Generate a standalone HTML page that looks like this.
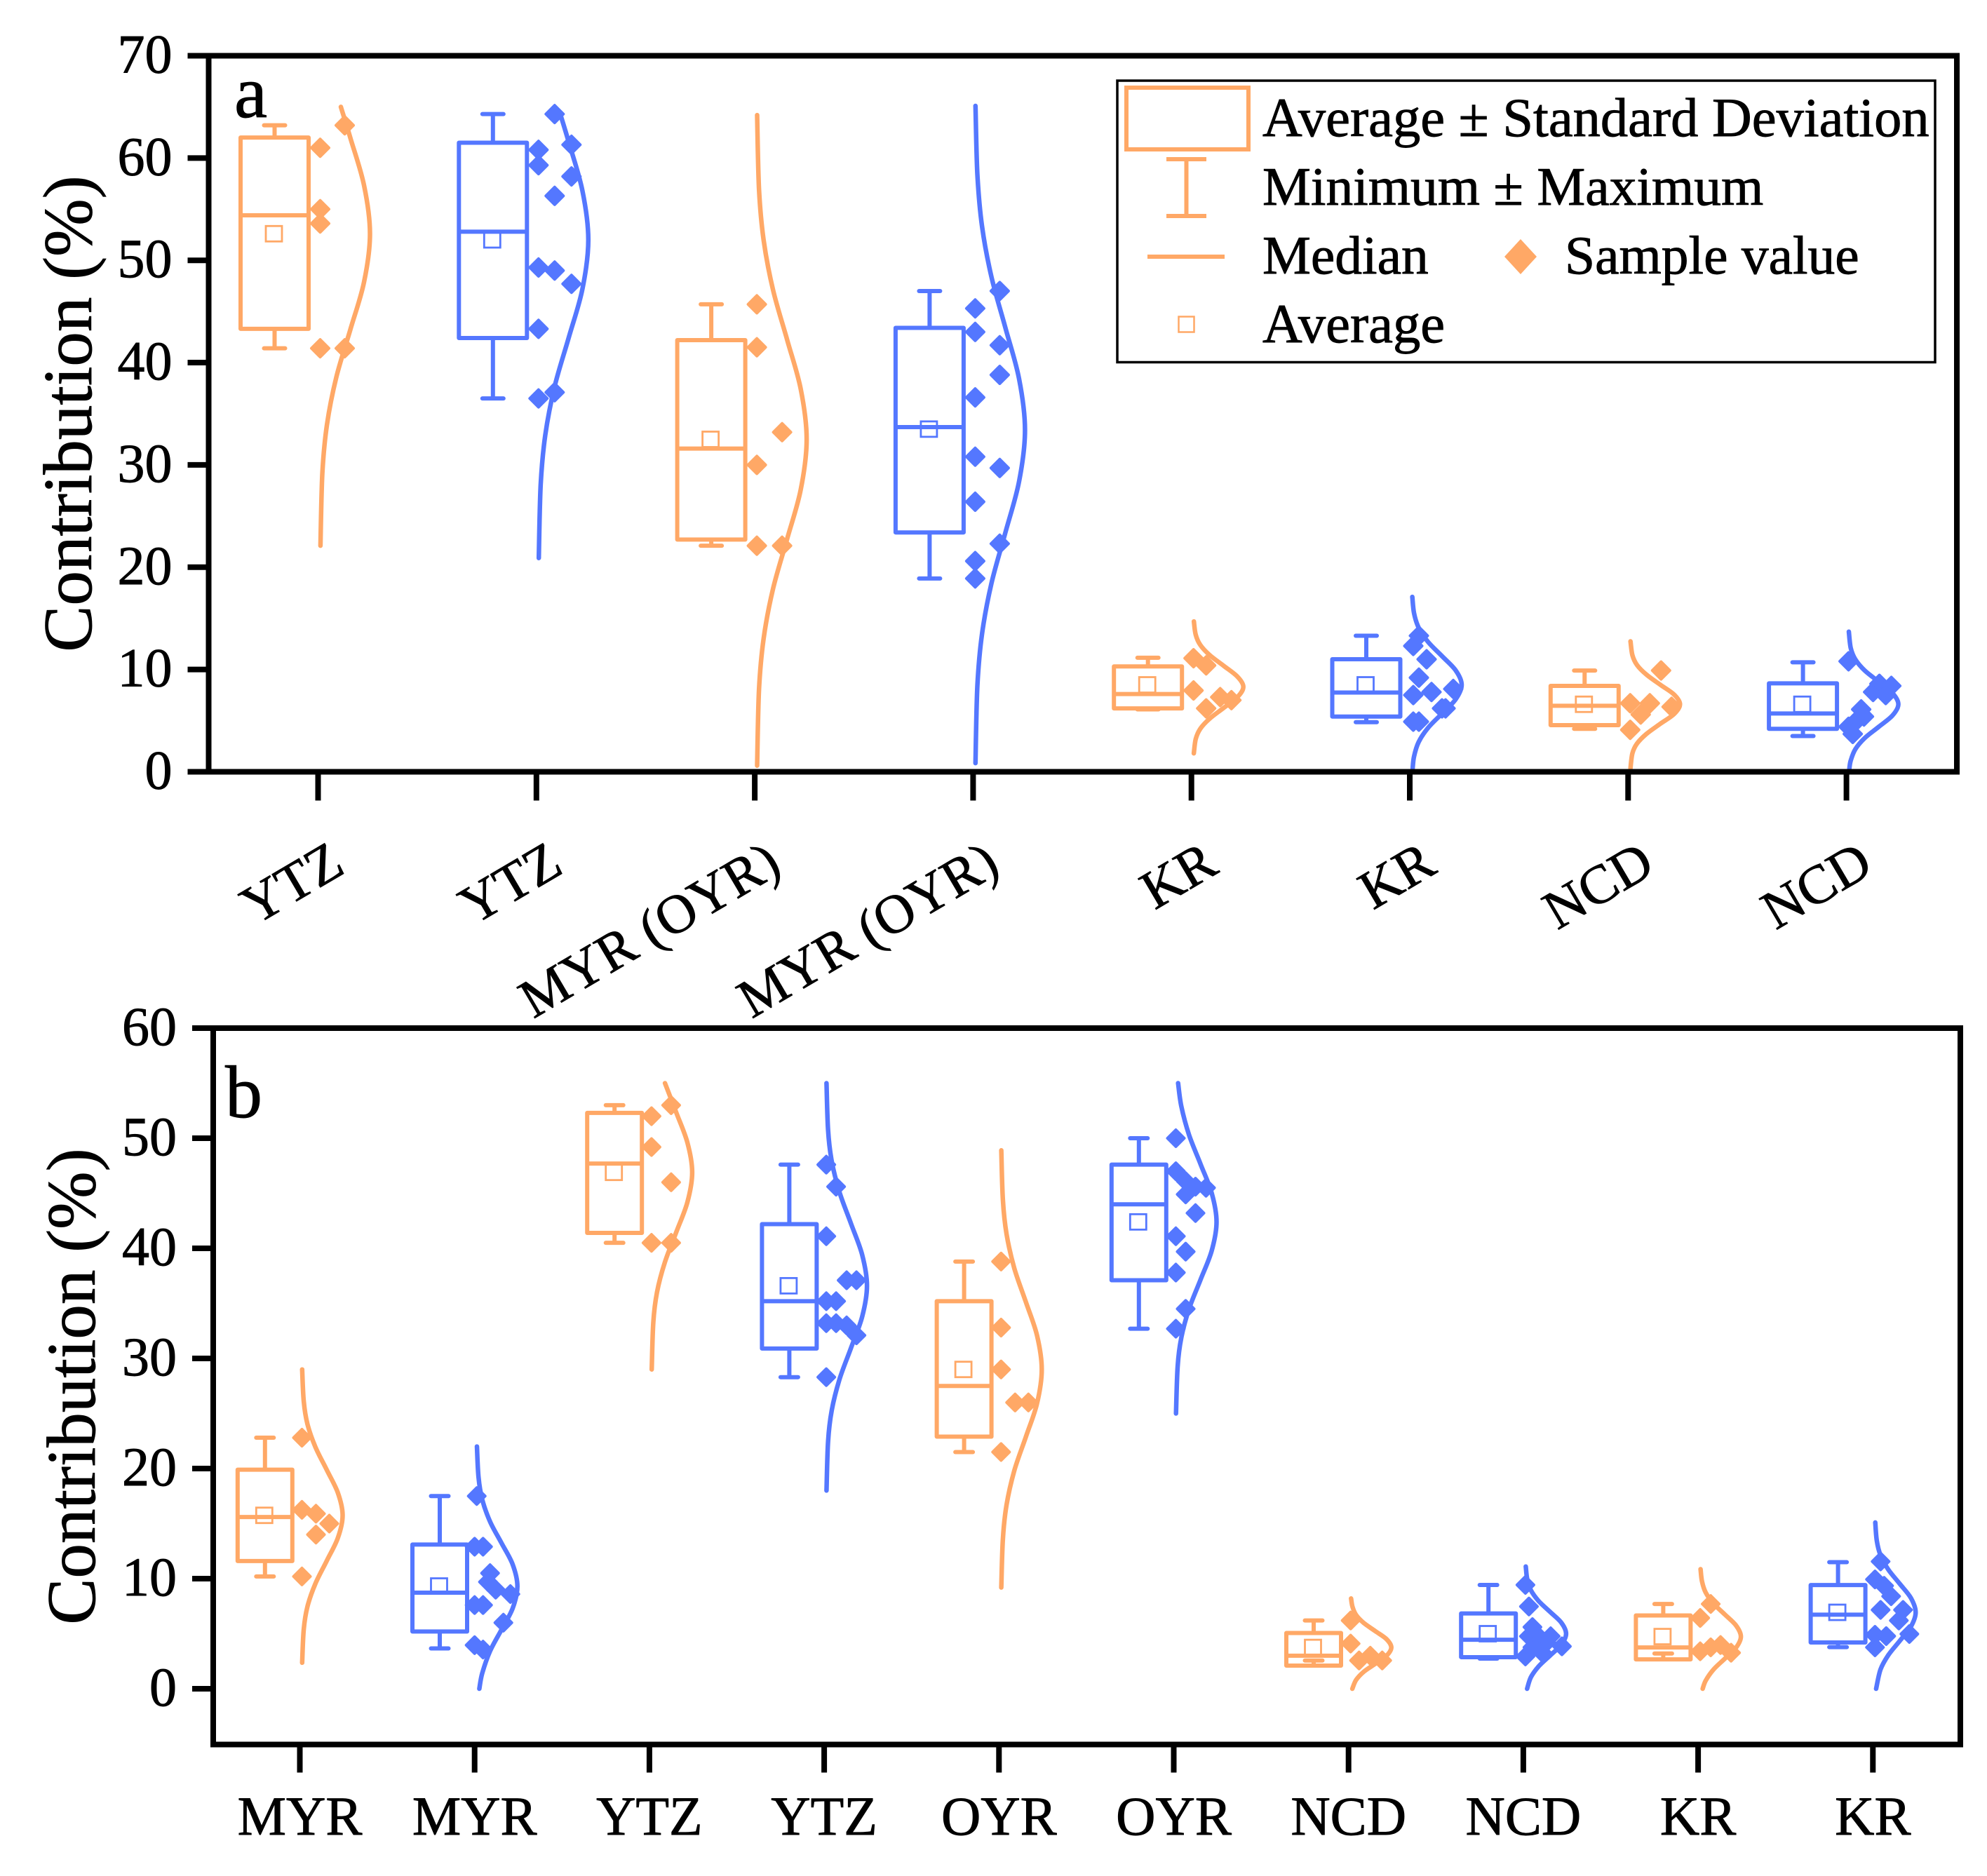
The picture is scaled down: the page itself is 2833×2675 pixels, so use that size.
<!DOCTYPE html>
<html lang="en">
<head>
<meta charset="utf-8">
<title>Contribution box and distribution charts</title>
<style>
html,body{margin:0;padding:0;background:#fff;}
svg{display:block;}
text{font-family:"Liberation Serif","Times New Roman",serif;fill:#000;stroke:#000;stroke-width:0.9px;}
</style>
</head>
<body>
<svg id="figure" xmlns="http://www.w3.org/2000/svg" width="2833" height="2675" viewBox="0 0 2833 2675">
  <rect x="0" y="0" width="2833" height="2675" fill="#fff"/>

  <g id="panel-a"></g>
  <g id="panel-b"></g>

  <rect x="297.5" y="79.5" width="2492.5" height="1021" fill="none" stroke="#000" stroke-width="8"/>
  <rect x="304" y="1466" width="2491" height="1021.5" fill="none" stroke="#000" stroke-width="8"/>

  <text transform="translate(130 590) rotate(-90)" text-anchor="middle" font-size="99">Contribution (%)</text>
  <text transform="translate(135 1977) rotate(-90)" text-anchor="middle" font-size="99">Contribution (%)</text>
  <text x="334" y="167" font-size="106">a</text>
  <text x="321" y="1593" font-size="106">b</text>

  <g>
    <rect x="1593" y="115" width="1166" height="401.5" fill="#fff" stroke="#000" stroke-width="3.5"/>
    <rect x="1606" y="125" width="174" height="88" fill="none" stroke="#FFA866" stroke-width="6"/>
    <g stroke="#FFA866" stroke-width="6">
      <line x1="1663" x2="1720" y1="227" y2="227"/>
      <line x1="1691.5" x2="1691.5" y1="227" y2="308"/>
      <line x1="1663" x2="1720" y1="308" y2="308"/>
    </g>
    <line x1="1636" x2="1746" y1="366" y2="366" stroke="#FFA866" stroke-width="6"/>
    <polygon points="2168,341 2191,366 2168,391 2145,366" fill="#FFA866"/>
    <rect x="1680.5" y="451.5" width="22" height="22" fill="none" stroke="#FFA866" stroke-width="2.5"/>
    <text x="1800" y="194" font-size="78.5">Average ± Standard Deviation</text>
    <text x="1800" y="292" font-size="77.5">Minimum ± Maximum</text>
    <text x="1800" y="390" font-size="77.5">Median</text>
    <text x="2231" y="390" font-size="77.5">Sample value</text>
    <text x="1800" y="488" font-size="78.5">Average</text>
  </g>
</svg>

<script>
/* ---------- Panel a data ---------- */
const categoriesA = ["YTZ","YTZ","MYR (OYR)","MYR (OYR)","KR","KR","NCD","NCD"];
const yTicksA = [0,10,20,30,40,50,60,70];
const boxTopA    = [62.0,61.5,42.2,43.4,10.3,11.0,8.4,8.65];
const boxBottomA = [43.3,42.4,22.7,23.4,6.2,5.4,4.56,4.2];
const medianA    = [54.4,52.8,31.6,33.7,7.6,7.75,6.45,5.7];
const meanA      = [52.6,52.0,32.5,33.5,8.5,8.5,6.6,6.6];
const whiskerMaxA= [63.2,64.3,45.7,47.0,11.15,13.3,9.9,10.7];
const whiskerMinA= [41.4,36.5,22.1,18.9,6.1,4.85,4.2,3.5];
const samplesA = [
  [61,55,53.6,41.4,63.2,41.4],
  [60.8,59.3,49.3,43.3,36.5,64.3,56.3,49,37.1,61.3,58.2,47.7],
  [45.7,41.5,30,22.1,33.2,22.1],
  [45.3,43,36.6,30.8,26.4,20.6,18.9,47,41.7,38.8,29.7,22.3],
  [11.1,10.4,7.95,6.2,7.3,7],
  [13.3,12.3,11,9.2,7.5,7.8,8.1,6.2,6.2,4.9,4.9],
  [9.9,6.7,6.7,5.6,6.35,4.1],
  [10.8,8.6,8.4,7.8,7.5,6.1,5.4,4.9,4.4,3.7]
];
const jitterA = [
  [0,0,0,0,3.5,3.5],
  [0,0,0,0,0,2.3,2.3,2.3,2.3,4.7,4.7,4.7],
  [0,0,0,0,3.6,3.6],
  [0,0,0,0,0,0,0,3.5,3.5,3.5,3.5,3.5],
  [0,1.8,0,1.8,3.8,5.4],
  [1,0.2,2.1,1,0.2,2.8,5.9,4.8,4.3,0.2,1],
  [4.4,0,2.8,1.5,5.9,0],
  [0,4.4,6.1,3.5,5.3,1.8,2.2,1,0,0.6]
];
const curveLevelsA = [
  [22.1,29.2,33.9,38.6,43.25,47.9,52.6,57.3,61.95,65],
  [20.9,28.1,32.9,37.7,42.45,47.2,52,56.8,61.55,64.5],
  [0.6,8.1,13,17.9,22.75,27.6,32.5,37.4,42.25,47.1,52,56.9,64.2],
  [0.85,8.4,13.4,18.4,23.4,28.4,33.4,38.4,43.4,48.4,53.4,58.4,65.1],
  [1.8,3.2,4.2,5.2,6.25,7.3,8.3,9.3,10.35,11.4,12.4,13.4,14.7],
  [0.34,1.5,2.9,4.3,5.7,7.1,8.5,9.9,11.3,12.7,14.1,15.5,17.1],
  [0.35,1.8,2.75,3.7,4.7,5.65,6.6,7.55,8.5,9.5,10.45,11.4,12.75],
  [0.34,1.1,2.2,3.3,4.4,5.5,6.6,7.7,8.8,9.9,11,12.1,13.7]
];
const curveDensityA = [
  [0.005,0.044,0.135,0.325,0.607,0.882,1,0.882,0.607,0.415],
  [0.005,0.044,0.135,0.325,0.607,0.882,1,0.882,0.607,0.424],
  [0.005,0.044,0.135,0.325,0.607,0.882,1,0.882,0.607,0.325,0.135,0.044,0.005],
  [0.005,0.044,0.135,0.325,0.607,0.882,1,0.882,0.607,0.325,0.135,0.044,0.006],
  [0.006,0.044,0.135,0.325,0.607,0.882,1,0.882,0.607,0.325,0.135,0.044,0.007],
  [0.015,0.044,0.135,0.325,0.607,0.882,1,0.882,0.607,0.325,0.135,0.044,0.009],
  [0.005,0.044,0.135,0.325,0.607,0.882,1,0.882,0.607,0.325,0.135,0.044,0.006],
  [0.017,0.044,0.135,0.325,0.607,0.882,1,0.882,0.607,0.325,0.135,0.044,0.006]
];

/* ---------- Panel b data ---------- */
const categoriesB = ["MYR","MYR","YTZ","YTZ","OYR","OYR","NCD","NCD","KR","KR"];
const yTicksB = [0,10,20,30,40,50,60];
const boxTopB    = [19.9,13.1,52.3,42.2,35.2,47.6,5.06,6.84,6.66,9.42];
const boxBottomB = [11.6,5.2,41.4,30.9,22.9,37.1,2.1,2.87,2.67,4.2];
const medianB    = [15.6,8.73,47.7,35.2,27.5,44,3,4.45,3.75,6.73];
const meanB      = [15.75,9.33,46.9,36.6,29,42.4,3.75,5,4.74,6.94];
const whiskerMaxB= [22.8,17.5,53,47.6,38.8,50,6.2,9.43,7.7,11.5];
const whiskerMinB= [10.2,3.66,40.5,28.3,21.5,32.7,2.56,2.74,3.2,3.78];
const samplesB = [
  [22.8,16.25,15.9,15,14,10.2],
  [17.5,12.9,12.9,10.5,9.7,9,8.6,7.6,7.6,6,3.96,3.56],
  [52,49.2,40.5,53,46,40.5],
  [47.6,45.6,41.1,37.1,37.1,35.2,35.2,33.2,33.2,33,32.1,28.3],
  [38.8,32.8,29,26,26,21.5],
  [50,47,46.1,45.6,45.5,44.9,43.2,41.1,39.7,37.8,34.5,32.7],
  [6.2,4.1,2.57,3,2.57],
  [9.43,7.47,5.6,4.77,4.67,4.77,4.2,3.85,3.76,3.27,2.93],
  [7.7,6.43,3.4,3.76,3.97,3.27],
  [11.56,9.93,9.35,8.4,7.16,7.16,6.2,4.9,4.78,4.97,3.76]
];
const jitterB = [
  [0,0,2,3.9,2,0],
  [0,-0.3,0.9,1.9,1.6,2.7,4.8,-0.3,0.9,3.8,-0.3,0.9],
  [0,0,0,2.8,2.8,2.8],
  [0,1.4,0,2.9,4.3,0,1.4,0,1.4,2.9,4.3,0],
  [0,0,0,2,3.9,0],
  [0,0,1.4,2.8,4.3,1.4,2.8,0,1.4,0,1.4,0],
  [0,0,1.2,2.8,4.5],
  [0,0.5,1,0.5,2,3.6,3,5.2,1,2.4,0],
  [1.5,0,0,1.5,2.9,4.4],
  [0.8,0,1.3,2.3,0.8,4,3.4,0,1.6,4.9,0]
];
const curveLevelsB = [
  [2.36,5.4,7.45,9.5,11.6,13.7,15.75,17.8,19.9,22,24.05,26.1,29],
  [0,1.4,3.4,5.35,7.3,9.3,11.3,13.25,15.2,17.2,19.2,22],
  [29,33.3,36,38.7,41.45,44.2,46.9,49.6,52.35,55],
  [18,22.5,25.3,28.1,30.95,33.8,36.6,39.4,42.25,45.1,47.9,50.7,55],
  [9.2,13.6,16.7,19.8,22.85,25.9,29,32.1,35.15,38.2,41.3,44.4,48.9],
  [25,29.3,31.9,34.5,37.15,39.8,42.4,45,47.65,50.3,52.9,55],
  [0,0.8,1.55,2.27,3,3.75,4.5,5.23,5.97,6.7,7.45,8.2],
  [0,1.05,2.03,3.02,4,5,6,6.98,7.97,8.95,9.95,11.1],
  [0,0.74,1.74,2.74,3.74,4.74,5.74,6.74,7.74,8.74,9.74,10.86],
  [0,1.74,3.04,4.34,5.64,6.94,8.24,9.54,10.84,12.14,13.44,15.1]
];
const curveDensityB = [
  [0.006,0.044,0.135,0.325,0.607,0.882,1,0.882,0.607,0.325,0.135,0.044,0.006],
  [0.063,0.135,0.325,0.607,0.882,1,0.882,0.607,0.325,0.135,0.044,0.006],
  [0.005,0.044,0.135,0.325,0.607,0.882,1,0.882,0.607,0.331],
  [0.006,0.044,0.135,0.325,0.607,0.882,1,0.882,0.607,0.325,0.135,0.044,0.005],
  [0.006,0.044,0.135,0.325,0.607,0.882,1,0.882,0.607,0.325,0.135,0.044,0.005],
  [0.004,0.044,0.135,0.325,0.607,0.882,1,0.882,0.607,0.325,0.135,0.056],
  [0.041,0.135,0.325,0.607,0.882,1,0.882,0.607,0.325,0.135,0.044,0.011],
  [0.041,0.135,0.325,0.607,0.882,1,0.882,0.607,0.325,0.135,0.044,0.009],
  [0.06,0.135,0.325,0.607,0.882,1,0.882,0.607,0.325,0.135,0.044,0.009],
  [0.028,0.135,0.325,0.607,0.882,1,0.882,0.607,0.325,0.135,0.044,0.007]
];

/* ---------- Drawing ---------- */
const ORANGE = "#FFA866";
const BLUE = "#5477FF";
const SVG_NS = "http://www.w3.org/2000/svg";
const groupColours = [ORANGE, BLUE];

function el(parent, tag, attrs) {
  const node = document.createElementNS(SVG_NS, tag);
  for (const key in attrs) node.setAttribute(key, attrs[key]);
  parent.appendChild(node);
  return node;
}

function smoothPath(pts) {
  let d = "M" + pts[0][0].toFixed(1) + " " + pts[0][1].toFixed(1);
  for (let i = 0; i < pts.length - 1; i++) {
    const p0 = pts[Math.max(i - 1, 0)];
    const p1 = pts[i];
    const p2 = pts[i + 1];
    const p3 = pts[Math.min(i + 2, pts.length - 1)];
    const c1x = p1[0] + (p2[0] - p0[0]) / 6;
    const c1y = p1[1] + (p2[1] - p0[1]) / 6;
    const c2x = p2[0] - (p3[0] - p1[0]) / 6;
    const c2y = p2[1] - (p3[1] - p1[1]) / 6;
    d += "C" + c1x.toFixed(1) + " " + c1y.toFixed(1) + " " + c2x.toFixed(1) + " " + c2y.toFixed(1) + " " + p2[0].toFixed(1) + " " + p2[1].toFixed(1);
  }
  return d;
}

function drawPanel(cfg) {
  const root = document.getElementById(cfg.id);
  const xScale = function (i) { return cfg.x0 + cfg.xStep * i; };
  const yScale = function (v) { return cfg.yZero - v * cfg.yUnit; };

  cfg.yTicks.forEach(function (t) {
    const tick = el(root, "line", {x1: cfg.left - 30, x2: cfg.left, y1: yScale(t), y2: yScale(t), stroke: "#000", "stroke-width": 8});
    
    
    const label = el(root, "text", {x: cfg.left - 52, y: yScale(t) + 24, "text-anchor": "end", "font-size": 78});
    
    
    label.textContent = String(t);
  });

  cfg.categories.forEach(function (name, i) {
    const tx = xScale(i);
    const colour = groupColours[i % 2];
    const group = el(root, "g", {});
    
    

    const tick = el(root, "line", {x1: tx, x2: tx, y1: cfg.bottom, y2: cfg.bottom + cfg.xTickLen, stroke: "#000", "stroke-width": 8});
    
    

    let label;
    if (cfg.rotate) {
      label = el(root, "text", {transform: "translate(" + (tx + 41) + " 1243) rotate(-30.5)", "text-anchor": "end", "font-size": 78});
    } else {
      label = el(root, "text", {x: tx, y: cfg.labelY, "text-anchor": "middle", "font-size": 78});
    }
    
    
    label.textContent = name;

    const bx = tx - cfg.boxOffset;
    const hw = cfg.boxHalf;
    const capHw = cfg.capHalf;

    const upper = el(group, "line", {x1: bx, x2: bx, y1: yScale(cfg.whiskerMax[i]), y2: yScale(cfg.boxTop[i]), stroke: colour, "stroke-width": 6});
    
    
    const lower = el(group, "line", {x1: bx, x2: bx, y1: yScale(cfg.boxBottom[i]), y2: yScale(cfg.whiskerMin[i]), stroke: colour, "stroke-width": 6});
    
    
    const capTop = el(group, "line", {x1: bx - capHw, x2: bx + capHw, y1: yScale(cfg.whiskerMax[i]), y2: yScale(cfg.whiskerMax[i]), stroke: colour, "stroke-width": 6, "stroke-linecap": "round"});
    
    
    const capBottom = el(group, "line", {x1: bx - capHw, x2: bx + capHw, y1: yScale(cfg.whiskerMin[i]), y2: yScale(cfg.whiskerMin[i]), stroke: colour, "stroke-width": 6, "stroke-linecap": "round"});
    
    

    const box = el(group, "rect", {x: bx - hw, y: yScale(cfg.boxTop[i]), width: hw * 2, height: yScale(cfg.boxBottom[i]) - yScale(cfg.boxTop[i]), fill: "none", stroke: colour, "stroke-width": 6, "stroke-linejoin": "round"});
    
    
    const median = el(group, "line", {x1: bx - hw, x2: bx + hw, y1: yScale(cfg.median[i]), y2: yScale(cfg.median[i]), stroke: colour, "stroke-width": 6});
    
    
    const mean = el(group, "rect", {x: bx - 12.5, y: yScale(cfg.mean[i]) - 11, width: 23, height: 22, fill: "none", stroke: colour, "stroke-width": 2.8});
    
    

    const baseX = tx + 3;
    const curvePts = cfg.levels[i].map(function (lv, k) {
      return [baseX + cfg.densityWidth * cfg.density[i][k], yScale(lv)];
    });
    const curve = el(group, "path", {d: smoothPath(curvePts), fill: "none", stroke: colour, "stroke-width": 6.5, "stroke-linecap": "round", "stroke-linejoin": "round"});
    
    

    cfg.samples[i].forEach(function (v, k) {
      const cx = baseX + cfg.jitter[i][k] * 10;
      const cy = yScale(v);
      const r = cfg.diamond;
      const pt = el(group, "polygon", {points: cx + "," + (cy - r) + " " + (cx + r) + "," + cy + " " + cx + "," + (cy + r) + " " + (cx - r) + "," + cy, fill: colour, stroke: colour, "stroke-width": 4, "stroke-linejoin": "round"});
      
      
    });
  });
}

drawPanel({
  id: "panel-a", categories: categoriesA, yTicks: yTicksA,
  boxTop: boxTopA, boxBottom: boxBottomA, median: medianA, mean: meanA,
  whiskerMax: whiskerMaxA, whiskerMin: whiskerMinA,
  samples: samplesA, jitter: jitterA, levels: curveLevelsA, density: curveDensityA,
  x0: 453.5, xStep: 311.3, yZero: 1100.5, yUnit: 14.586,
  left: 297.5, bottom: 1100.5, xTickLen: 41, rotate: true,
  boxOffset: 62, boxHalf: 48.5, capHalf: 15, densityWidth: 71, diamond: 12.5
});

drawPanel({
  id: "panel-b", categories: categoriesB, yTicks: yTicksB,
  boxTop: boxTopB, boxBottom: boxBottomB, median: medianB, mean: meanB,
  whiskerMax: whiskerMaxB, whiskerMin: whiskerMinB,
  samples: samplesB, jitter: jitterB, levels: curveLevelsB, density: curveDensityB,
  x0: 427.5, xStep: 249.2, yZero: 2408, yUnit: 15.7,
  left: 304, bottom: 2487.5, xTickLen: 40, rotate: false, labelY: 2616,
  boxOffset: 49.7, boxHalf: 39, capHalf: 12.5, densityWidth: 58, diamond: 12
});
</script>
</body>
</html>
